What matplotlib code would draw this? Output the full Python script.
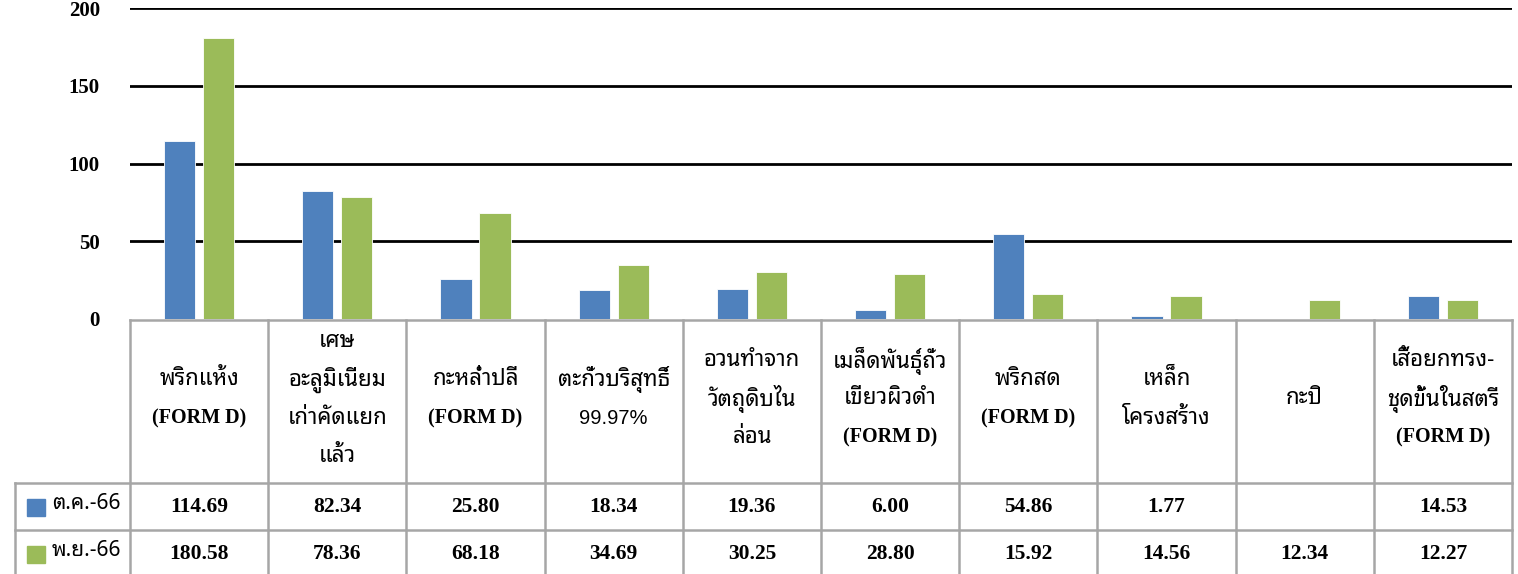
import matplotlib
matplotlib.use("Agg")
import matplotlib.pyplot as plt
import numpy as np

# 1. data
kategori = [
    ["พริกแห้ง", "(FORM D)"],
    ["เศษ", "อะลูมิเนียม", "เก่าคัดแยก", "แล้ว"],
    ["กะหล่ำปลี", "(FORM D)"],
    ["ตะกั่วบริสุทธิ์", "99.97%"],
    ["อวนทำจาก", "วัตถุดิบไน", "ล่อน"],
    ["เมล็ดพันธุ์ถั่ว", "เขียวผิวดำ", "(FORM D)"],
    ["พริกสด", "(FORM D)"],
    ["เหล็ก", "โครงสร้าง"],
    ["กะปิ"],
    ["เสื้อยกทรง-", "ชุดขั้นในสตรี", "(FORM D)"],
]
seri = ["ต.ค.-66", "พ.ย.-66"]
nilai_okt = [114.69, 82.34, 25.80, 18.34, 19.36, 6.00, 54.86, 1.77, None, 14.53]
nilai_nov = [180.58, 78.36, 68.18, 34.69, 30.25, 28.80, 15.92, 14.56, 12.34, 12.27]
yticks = [0, 50, 100, 150, 200]

warna = ["#4F81BD", "#9BBB59"]
thai = ["Noto Sans Thai Looped", "Liberation Sans"]
serif = "Liberation Serif"
abu = "#A6A6A6"

W, H = 1518, 574
fig = plt.figure(figsize=(W / 100, H / 100), dpi=100)

# 2. bar plot (pixel layout -> figure fraction)
x0, x1 = 130, 1512
ax = fig.add_axes([x0 / W, (H - 319) / H, (x1 - x0) / W, (319 - 8) / H])
x = np.arange(len(kategori))
lebar = 0.225
okt = np.array([np.nan if v is None else v for v in nilai_okt])
ax.bar(x - 0.141, okt, lebar, color=warna[0], edgecolor="white", linewidth=0.6)
ax.bar(x + 0.141, nilai_nov, lebar, color=warna[1], edgecolor="white", linewidth=0.6)
ax.set_xlim(-0.5, len(kategori) - 0.5)
ax.set_ylim(0, 200)
ax.set_yticks(yticks)
ax.set_yticklabels([str(t) for t in yticks], fontfamily=serif, fontweight="bold", fontsize=15)
ax.tick_params(axis="y", length=0, pad=21.6)   # pad in points = 30 px
ax.set_xticks([])
for t in yticks[1:]:
    ax.axhline(t, color="black", lw=2, zorder=0)
for s in ax.spines.values():
    s.set_visible(False)

# 3. table below the chart (y in pixels from table top)
tb = fig.add_axes([x0 / W, 0, (x1 - x0) / W, (H - 320) / H])
tb.set_xlim(-0.5, len(kategori) - 0.5)
tb.set_ylim(H - 320, 0)
tb.axis("off")
kolom_kiri = -0.5 - 115 / 138.2
y_head, y_r1, y_r2 = 163, 210, 258
lw = 1.8
# garis horizontal
tb.plot([-0.5, len(kategori) - 0.5], [0, 0], color=abu, lw=lw, clip_on=False)
for yy in [y_head, y_r1, y_r2]:
    tb.plot([kolom_kiri, len(kategori) - 0.5], [yy, yy], color=abu, lw=lw, clip_on=False)
# garis vertikal
for i in range(len(kategori) + 1):
    tb.plot([i - 0.5, i - 0.5], [0, y_r2], color=abu, lw=lw, clip_on=False)
tb.plot([kolom_kiri, kolom_kiri], [y_head, y_r2], color=abu, lw=lw, clip_on=False)

# header text
tengah = 79
jarak = 38.5
for i, baris in enumerate(kategori):
    n = len(baris)
    for k, teks in enumerate(baris):
        yy = tengah + (k - (n - 1) / 2) * jarak
        if teks.startswith("("):
            tb.text(i, yy, teks, ha="center", va="center", fontsize=14.5,
                    family=serif, fontweight="bold", clip_on=False)
        elif teks.isascii():
            tb.text(i, yy, teks, ha="center", va="center", fontsize=14.5,
                    family="Liberation Sans", clip_on=False)
        else:
            tb.text(i, yy, teks, ha="center", va="center", fontsize=16,
                    family=thai, clip_on=False)

# baris data + kotak legenda
for r, (nama, nilai) in enumerate(zip(seri, [nilai_okt, nilai_nov])):
    yy = (y_head + y_r1) / 2 if r == 0 else (y_r1 + y_r2) / 2
    tb.add_patch(plt.Rectangle((kolom_kiri + 12 / 138.2, yy - 8), 18 / 138.2, 17,
                               color=warna[r], clip_on=False))
    tb.text(kolom_kiri + 37 / 138.2, yy - 3, nama, ha="left", va="center",
            fontsize=15, family=thai, clip_on=False)
    for i, v in enumerate(nilai):
        if v is None:
            continue
        tb.text(i, yy, "%.2f" % v, ha="center", va="center", fontsize=15.5,
                family=serif, fontweight="bold", clip_on=False)

fig.savefig("out.png", dpi=100)
